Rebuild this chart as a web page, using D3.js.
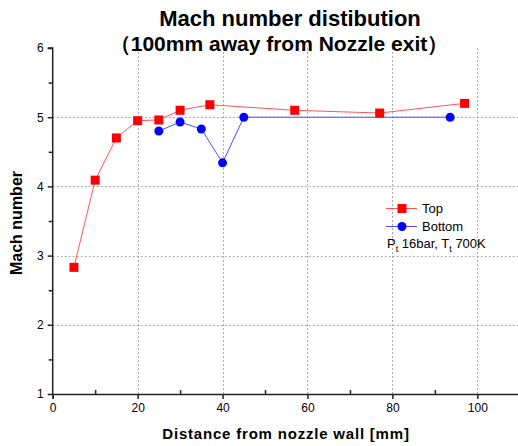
<!DOCTYPE html>
<html><head><meta charset="utf-8">
<script src="https://cdn.jsdelivr.net/npm/d3@7"></script>
<style>body{margin:0;background:#fff}svg{display:block}</style>
</head><body>
<script>
const topX = [5, 10, 15, 20, 25, 30, 37, 57, 77, 97];
const topY = [2.83, 4.09, 4.70, 4.95, 4.96, 5.10, 5.18, 5.10, 5.06, 5.20];
const botX = [25, 30, 35, 40, 45, 93.6];
const botY = [4.80, 4.93, 4.83, 4.34, 5.00, 5.00];
const xTicks = [0, 20, 40, 60, 80, 100];
const yTicks = [1, 2, 3, 4, 5, 6];
const titleLines = ["Mach number distibution", "（100mm away from Nozzle exit）"];

const W = 518, H = 446;
const svg = d3.select("body").append("svg").attr("width", W).attr("height", H);
const x = d3.scaleLinear().domain([0, 110]).range([52.7, 519.8]);
const y = d3.scaleLinear().domain([1, 6]).range([394, 48]);
const font = "Arial, 'Liberation Sans', sans-serif";

// grid
const grid = svg.append("g").attr("stroke", "#aaa").attr("stroke-dasharray", "2,2").attr("stroke-width", 1);
xTicks.slice(1).forEach(v => grid.append("line").attr("x1", Math.round(x(v)) + .5).attr("x2", Math.round(x(v)) + .5).attr("y1", y(6)).attr("y2", y(1)));
yTicks.slice(1, -1).forEach(v => grid.append("line").attr("x1", x(0)).attr("x2", W).attr("y1", Math.round(y(v)) + .5).attr("y2", Math.round(y(v)) + .5));

// axes
const xAxis = d3.axisBottom(x).tickValues(xTicks).tickSize(5).tickPadding(4).tickFormat(d3.format("d"));
const gx = svg.append("g").attr("transform", `translate(0,${y(1)})`).call(xAxis);
gx.select(".domain").attr("stroke", "#222").attr("stroke-width", 1.5);
gx.selectAll(".tick line").attr("stroke", "#222").attr("stroke-width", 1.5);
gx.selectAll("text").attr("font-family", font).attr("font-size", 12).attr("fill", "#000");
const gxm = svg.append("g").attr("transform", `translate(0,${y(1)})`)
  .call(d3.axisTop(x).tickValues([10, 30, 50, 70, 90, 110]).tickSize(4).tickFormat(""));
gxm.select(".domain").remove();
gxm.selectAll(".tick line").attr("stroke", "#222").attr("stroke-width", 1.5);

const yAxis = d3.axisLeft(y).tickValues(yTicks).tickSize(5).tickPadding(4).tickFormat(d3.format("d"));
const gy = svg.append("g").attr("transform", `translate(${x(0)},0)`).call(yAxis);
gy.select(".domain").attr("stroke", "#222").attr("stroke-width", 1.5).attr("d", `M-5,${y(6)}H0V${y(1)}`);
gy.selectAll(".tick line").attr("stroke", "#222").attr("stroke-width", 1.5);
gy.selectAll("text").attr("font-family", font).attr("font-size", 12).attr("fill", "#000");
const gym = svg.append("g").attr("transform", `translate(${x(0)},0)`)
  .call(d3.axisLeft(y).tickValues([1.5, 2.5, 3.5, 4.5, 5.5]).tickSize(4).tickFormat(""));
gym.select(".domain").remove();
gym.selectAll(".tick line").attr("stroke", "#222").attr("stroke-width", 1.5);

// lines
const line = d3.line().x(d => x(d[0])).y(d => y(d[1]));
const topData = topX.map((v, i) => [v, topY[i]]);
const botData = botX.map((v, i) => [v, botY[i]]);
svg.append("path").datum(topData).attr("d", line).attr("fill", "none").attr("stroke", "#ff5555").attr("stroke-width", 1);
svg.append("path").datum(botData).attr("d", line).attr("fill", "none").attr("stroke", "#4d4dff").attr("stroke-width", 1);
svg.selectAll(".sq").data(topData).enter().append("rect")
  .attr("x", d => x(d[0]) - 4.5).attr("y", d => y(d[1]) - 4.5).attr("width", 9).attr("height", 9).attr("fill", "#ff0000");
svg.selectAll(".ci").data(botData).enter().append("circle")
  .attr("cx", d => x(d[0])).attr("cy", d => y(d[1])).attr("r", 4.5).attr("fill", "#0000ff");

// legend
const lg = svg.append("g");
lg.append("line").attr("x1", 386).attr("x2", 417).attr("y1", 208.5).attr("y2", 208.5).attr("stroke", "#ff5555");
lg.append("rect").attr("x", 397.5).attr("y", 204).attr("width", 9).attr("height", 9).attr("fill", "#ff0000");
lg.append("text").attr("x", 422).attr("y", 213).text("Top").attr("font-family", font).attr("font-size", 13);
lg.append("line").attr("x1", 386).attr("x2", 417).attr("y1", 226.5).attr("y2", 226.5).attr("stroke", "#4d4dff");
lg.append("circle").attr("cx", 402).attr("cy", 226.5).attr("r", 4.5).attr("fill", "#0000ff");
lg.append("text").attr("x", 422).attr("y", 231).text("Bottom").attr("font-family", font).attr("font-size", 13);
const pt = lg.append("text").attr("x", 387).attr("y", 248).attr("font-family", font).attr("font-size", 13);
pt.append("tspan").text("P");
pt.append("tspan").text("t").attr("font-size", 9).attr("dy", 4);
pt.append("tspan").text(" 16bar, T").attr("dy", -4);
pt.append("tspan").text("t").attr("font-size", 9).attr("dy", 4);
pt.append("tspan").text(" 700K").attr("dy", -4);

// titles
svg.append("text").attr("x", 290).attr("y", 26).attr("text-anchor", "middle").attr("font-family", font)
  .attr("font-weight", "bold").attr("font-size", 22).text(titleLines[0]);
svg.append("text").attr("x", 279).attr("y", 51).attr("text-anchor", "middle").attr("font-family", font)
  .attr("font-weight", "bold").attr("font-size", 21).text(titleLines[1]);
svg.append("text").attr("x", 286).attr("y", 439).attr("text-anchor", "middle").attr("font-family", font)
  .attr("font-weight", "bold").attr("font-size", 15).attr("letter-spacing", 0.8).text("Distance from nozzle wall [mm]");
svg.append("text").attr("transform", "translate(22,223) rotate(-90)").attr("text-anchor", "middle").attr("font-family", font)
  .attr("font-weight", "bold").attr("font-size", 16).text("Mach number");
</script>
</body></html>
